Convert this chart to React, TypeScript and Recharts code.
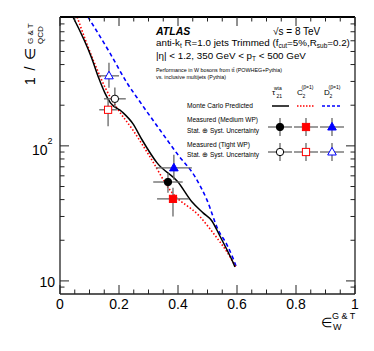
import React from 'react';
import { ComposedChart, Line, Scatter, ErrorBar, XAxis, YAxis } from 'recharts';

const FONT = '"Liberation Sans", Arial, Helvetica, sans-serif';
const AXIS = '#222';

// Monte Carlo predicted curves: signal efficiency vs 1 / background efficiency
const tau21X = [0.044, 0.107, 0.131, 0.152, 0.171, 0.21, 0.247, 0.278, 0.329, 0.4, 0.447, 0.485, 0.515, 0.542, 0.566, 0.586, 0.593];
const tau21Y = [900, 449, 319, 247, 208, 179, 146, 111, 74.8, 54, 38.5, 31.9, 27.8, 21.5, 17, 13.8, 12.7];
const c2X = [0.058, 0.115, 0.155, 0.193, 0.247, 0.305, 0.373, 0.475, 0.532, 0.566, 0.597];
const c2Y = [900, 419, 265, 191, 131, 83, 47, 29.8, 20.8, 16.4, 12.5];
const d2X = [0.095, 0.169, 0.227, 0.271, 0.339, 0.4, 0.458, 0.498, 0.536, 0.566, 0.586, 0.6];
const d2Y = [900, 488, 293, 212, 131, 85.8, 58.9, 39.8, 23.9, 18.5, 14.8, 12.3];

// Measured working points, order: tau21, C2, D2
const mediumX = [0.366, 0.383, 0.386];
const mediumY = [54, 40.5, 68.7];
const mediumXErr = [0.05, 0.054, 0.061];
const mediumYErrLow = [9, 10.5, 12.7];
const mediumYErrHigh = [9, 8.5, 17.3];
const tightX = [0.186, 0.163, 0.166];
const tightY = [223, 185, 330];
const tightXErr = [0.037, 0.03, 0.034];
const tightYErrLow = [31, 45, 61];
const tightYErrHigh = [47, 40, 83];

const kinds = ['circle', 'square', 'triangle'];
const colors = ['#000000', '#ff0000', '#0000ff'];

const xTicks = [0, 0.05, 0.1, 0.15, 0.2, 0.25, 0.3, 0.35, 0.4, 0.45, 0.5, 0.55, 0.6, 0.65, 0.7, 0.75, 0.8, 0.85, 0.9, 0.95, 1];
const xMajor = [0, 0.2, 0.4, 0.6, 0.8, 1];
const xLabels = ['0', '0.2', '0.4', '0.6', '0.8', '1'];
const yTicks = [9, 10, 20, 30, 40, 50, 60, 70, 80, 90, 100, 200, 300, 400, 500, 600, 700, 800];
const yMajor = [10, 100];

const toXY = (xs: number[], ys: number[]) => xs.map((x, i) => ({ x, y: ys[i] }));

function majorIndex(list: number[], v: number) {
  return list.findIndex((m) => Math.abs(m - v) < 1e-6);
}

function Marker({ cx, cy, kind, color, filled }: any) {
  const fill = filled ? color : '#ffffff';
  if (kind === 'square') {
    return <rect x={cx - 3.6} y={cy - 3.6} width={7.2} height={7.2} fill={fill} stroke={color} strokeWidth={1} />;
  }
  if (kind === 'triangle') {
    return (
      <polygon
        points={`${cx},${cy - 4.6} ${cx - 4.3},${cy + 3} ${cx + 4.3},${cy + 3}`}
        fill={fill}
        stroke={color}
        strokeWidth={1}
      />
    );
  }
  return <circle cx={cx} cy={cy} r={3.7} fill={fill} stroke={color} strokeWidth={1} />;
}

function BottomTick({ x, y, payload }: any) {
  const mi = majorIndex(xMajor, payload.value);
  return (
    <g>
      <line x1={x} y1={y} x2={x} y2={y - (mi >= 0 ? 9 : 4.5)} stroke={AXIS} strokeWidth={1} />
      {mi >= 0 && (
        <text x={x} y={y + 14.5} textAnchor="middle" fontSize={14} fontFamily={FONT} fill="#000">
          {xLabels[mi]}
        </text>
      )}
    </g>
  );
}

function TopTick({ x, y, payload }: any) {
  const mi = majorIndex(xMajor, payload.value);
  return <line x1={x} y1={y} x2={x} y2={y + (mi >= 0 ? 9 : 4.5)} stroke={AXIS} strokeWidth={1} />;
}

function LeftTick({ x, y, payload }: any) {
  const mi = majorIndex(yMajor, payload.value);
  return (
    <g>
      <line x1={x} y1={y} x2={x + (mi >= 0 ? 9 : 4.5)} y2={y} stroke={AXIS} strokeWidth={1} />
      {mi === 0 && (
        <text x={x - 5} y={y + 6} textAnchor="end" fontSize={14} fontFamily={FONT} fill="#000">
          10
        </text>
      )}
      {mi === 1 && (
        <text x={x - 28} y={y + 9} fontSize={14} fontFamily={FONT} fill="#000">
          10
          <tspan fontSize={9} dy={-11}>2</tspan>
        </text>
      )}
    </g>
  );
}

function RightTick({ x, y, payload }: any) {
  const mi = majorIndex(yMajor, payload.value);
  return <line x1={x} y1={y} x2={x - (mi >= 0 ? 9 : 4.5)} y2={y} stroke={AXIS} strokeWidth={1} />;
}

function Overlay() {
  const t = { fontFamily: FONT, fill: '#000' } as const;
  const legendX = [280, 306, 332];
  const crossRows = [
    { cy: 127, filled: true },
    { cy: 152, filled: false },
  ];
  return (
    <svg width={374} height={351} style={{ position: 'absolute', left: 0, top: 0, pointerEvents: 'none' }}>
      {/* header */}
      <text x={156} y={35} fontSize={10.5} fontWeight="bold" fontStyle="italic" {...t}>ATLAS</text>
      <text x={273} y={35} fontSize={10} {...t}>√s = 8 TeV</text>
      <text x={156} y={46} fontSize={9.8} {...t}>
        anti-k<tspan fontSize={6.5} dy={2}>t</tspan>
        <tspan dy={-2}> R=1.0 jets Trimmed (f</tspan>
        <tspan fontSize={6.5} dy={2}>cut</tspan>
        <tspan dy={-2}>=5%,R</tspan>
        <tspan fontSize={6.5} dy={2}>sub</tspan>
        <tspan dy={-2}>=0.2)</tspan>
      </text>
      <text x={156} y={59} fontSize={9.8} {...t}>
        |η| &lt; 1.2, 350 GeV &lt; p<tspan fontSize={6.5} dy={2}>T</tspan>
        <tspan dy={-2}> &lt; 500 GeV</tspan>
      </text>
      <text x={156} y={72} fontSize={6} textLength={126} lengthAdjust="spacingAndGlyphs" {...t}>
        Performance in W bosons from tt̄ (POWHEG+Pythia)
      </text>
      <text x={156} y={79} fontSize={6} textLength={70} lengthAdjust="spacingAndGlyphs" {...t}>
        vs. inclusive multijets (Pythia)
      </text>

      {/* legend column headers */}
      <text x={272} y={95} fontSize={8} {...t}>τ</text>
      <text x={276.5} y={97.5} fontSize={5} {...t}>21</text>
      <text x={274} y={89.5} fontSize={5} {...t}>wta</text>
      <text x={297} y={95} fontSize={8} {...t}>C</text>
      <text x={302.5} y={97.5} fontSize={5} {...t}>2</text>
      <text x={301.5} y={88.5} fontSize={5} {...t}>(β=1)</text>
      <text x={324} y={95} fontSize={8} {...t}>D</text>
      <text x={329.5} y={97.5} fontSize={5} {...t}>2</text>
      <text x={328.5} y={88.5} fontSize={5} {...t}>(β=1)</text>

      {/* legend rows */}
      <text x={187} y={108} fontSize={6.5} textLength={66} lengthAdjust="spacingAndGlyphs" {...t}>Monte Carlo Predicted</text>
      <line x1={272} y1={106} x2={289} y2={106} stroke="#000" strokeWidth={1.5} />
      <line x1={297} y1={106} x2={314} y2={106} stroke="#ff0000" strokeWidth={1.5} strokeDasharray="1.5 1.5" />
      <line x1={322} y1={106} x2={341} y2={106} stroke="#0000ff" strokeWidth={1.5} strokeDasharray="3 2" />

      <text x={187} y={122} fontSize={6.5} textLength={71} lengthAdjust="spacingAndGlyphs" {...t}>Measured (Medium WP)</text>
      <text x={187} y={133} fontSize={6.5} textLength={72} lengthAdjust="spacingAndGlyphs" {...t}>Stat. ⊕ Syst. Uncertainty</text>
      <text x={187} y={147} fontSize={6.5} textLength={63} lengthAdjust="spacingAndGlyphs" {...t}>Measured (Tight WP)</text>
      <text x={187} y={157} fontSize={6.5} textLength={72} lengthAdjust="spacingAndGlyphs" {...t}>Stat. ⊕ Syst. Uncertainty</text>

      {crossRows.map((row) =>
        legendX.map((lx, i) => (
          <g key={`${row.cy}-${i}`}>
            <line x1={lx - 12} y1={row.cy} x2={lx + 12} y2={row.cy} stroke="#666" strokeWidth={1.3} />
            <line x1={lx} y1={row.cy - 9} x2={lx} y2={row.cy + 9} stroke="#666" strokeWidth={1.3} />
            <Marker cx={lx} cy={row.cy} kind={kinds[i]} color={colors[i]} filled={row.filled} />
          </g>
        ))
      )}

      {/* y axis title */}
      <g transform="translate(35,85) rotate(-90)">
        <text x={0} y={0} fontSize={14} textLength={37} {...t}>1 / ∈</text>
        <text x={41} y={-2.5} fontSize={8} {...t}>G &amp; T</text>
        <text x={41} y={7.5} fontSize={8} {...t}>QCD</text>
      </g>

      {/* x axis title */}
      <text x={321} y={326.5} fontSize={13} {...t}>∈</text>
      <text x={332} y={318.5} fontSize={9} {...t}>G &amp; T</text>
      <text x={333} y={330} fontSize={9} {...t}>W</text>
    </svg>
  );
}

export default function App() {
  const tau21Data = toXY(tau21X, tau21Y);
  const c2Data = toXY(c2X, c2Y);
  const d2Data = toXY(d2X, d2Y);
  const medium = mediumX.map((x, i) => ({
    x,
    y: mediumY[i],
    xErr: mediumXErr[i],
    yErr: [mediumYErrLow[i], mediumYErrHigh[i]],
  }));
  const tight = tightX.map((x, i) => ({
    x,
    y: tightY[i],
    xErr: tightXErr[i],
    yErr: [tightYErrLow[i], tightYErrHigh[i]],
  }));

  const points = [
    ...tight.map((p, i) => ({ p, i, filled: false, key: `t${i}` })),
    ...medium.map((p, i) => ({ p, i, filled: true, key: `m${i}` })),
  ];

  return (
    <div style={{ position: 'absolute', left: 0, top: 0, width: 374, height: 351, background: '#fff' }}>
      <ComposedChart width={374} height={351} margin={{ top: 0, right: 0, bottom: 27, left: 0 }}>
        <XAxis
          type="number"
          dataKey="x"
          domain={[0, 1]}
          ticks={xTicks}
          interval={0}
          height={30}
          tickSize={0}
          tickMargin={0}
          tickLine={false}
          tick={BottomTick}
          axisLine={{ stroke: AXIS, strokeWidth: 1.3 }}
          allowDataOverflow
        />
        <XAxis
          xAxisId="top"
          orientation="top"
          type="number"
          dataKey="x"
          domain={[0, 1]}
          ticks={xTicks}
          interval={0}
          height={17}
          tickSize={0}
          tickMargin={0}
          tickLine={false}
          tick={TopTick}
          axisLine={{ stroke: '#000', strokeWidth: 1.8 }}
          allowDataOverflow
        />
        <YAxis
          type="number"
          scale="log"
          domain={[8, 900]}
          ticks={yTicks}
          interval={0}
          width={60}
          tickSize={0}
          tickMargin={0}
          tickLine={false}
          tick={LeftTick}
          axisLine={{ stroke: AXIS, strokeWidth: 1.3 }}
          allowDataOverflow
        />
        <YAxis
          yAxisId="right"
          orientation="right"
          type="number"
          scale="log"
          domain={[8, 900]}
          ticks={yTicks}
          interval={0}
          width={19}
          tickSize={0}
          tickMargin={0}
          tickLine={false}
          tick={RightTick}
          axisLine={{ stroke: AXIS, strokeWidth: 1.3 }}
          allowDataOverflow
        />

        <Line data={d2Data} dataKey="y" type="monotone" stroke="#0000ff" strokeWidth={1.6} strokeDasharray="4 3" dot={false} isAnimationActive={false} />
        <Line data={c2Data} dataKey="y" type="monotone" stroke="#ff0000" strokeWidth={1.6} strokeDasharray="1.5 2" dot={false} isAnimationActive={false} />
        <Line data={tau21Data} dataKey="y" type="monotone" stroke="#000000" strokeWidth={1.5} dot={false} isAnimationActive={false} />

        {points.map(({ p, i, filled, key }) => (
          <Scatter
            key={key}
            data={[p]}
            dataKey="y"
            isAnimationActive={false}
            shape={(props: any) => (
              <Marker cx={props.cx} cy={props.cy} kind={kinds[i]} color={colors[i]} filled={filled} />
            )}
          >
            <ErrorBar dataKey="xErr" direction="x" width={0} stroke="#666" strokeWidth={1.3} isAnimationActive={false} />
            <ErrorBar dataKey="yErr" direction="y" width={0} stroke="#666" strokeWidth={1.3} isAnimationActive={false} />
          </Scatter>
        ))}
      </ComposedChart>
      <Overlay />
    </div>
  );
}
